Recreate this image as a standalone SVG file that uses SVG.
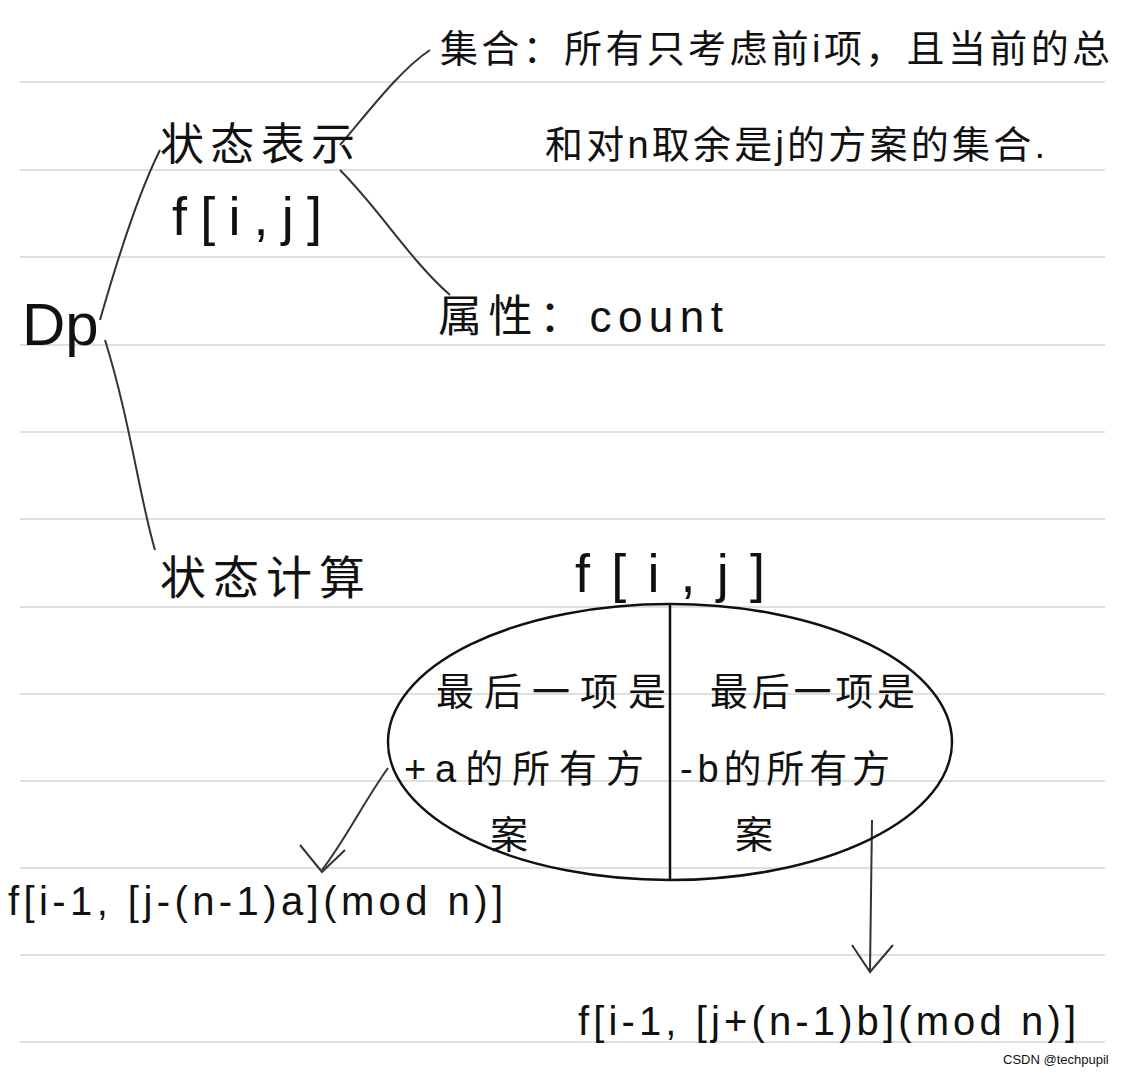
<svg xmlns="http://www.w3.org/2000/svg" width="1132" height="1080" viewBox="0 0 1132 1080">
<style>
.rule{stroke:#d4d4d4;stroke-width:1.5}
.t{font-family:"Liberation Sans","Noto Sans CJK SC",sans-serif;fill:#111}
.c{fill:none;stroke:#333;stroke-width:2}
</style>
<rect width="1132" height="1080" fill="#fff"/>
<g id="paper">
<line class="rule" x1="20" y1="82" x2="1105" y2="82"/><line class="rule" x1="20" y1="170" x2="1105" y2="170"/>
<line class="rule" x1="20" y1="257" x2="1105" y2="257"/><line class="rule" x1="20" y1="345" x2="1105" y2="345"/>
<line class="rule" x1="20" y1="432" x2="1105" y2="432"/><line class="rule" x1="20" y1="519" x2="1105" y2="519"/>
<line class="rule" x1="20" y1="607" x2="1105" y2="607"/><line class="rule" x1="20" y1="694" x2="1105" y2="694"/>
<line class="rule" x1="20" y1="781" x2="1105" y2="781"/><line class="rule" x1="20" y1="868" x2="1105" y2="868"/>
<line class="rule" x1="20" y1="955" x2="1105" y2="955"/><line class="rule" x1="20" y1="1042" x2="1105" y2="1042"/>
</g>
<g id="connectors">
<path class="c" d="M100,320 C120,250 140,190 160,150"/>
<path class="c" d="M105,340 C130,420 140,500 155,550"/>
<path class="c" d="M340,145 C370,110 400,70 430,50"/>
<path class="c" d="M340,170 C380,210 410,260 450,295"/>
<path class="c" d="M388,768 C365,800 345,840 322,870"/>
<path class="c" d="M300,845 L322,872 L345,850"/>
<path class="c" d="M872,820 L870,970"/>
<path class="c" d="M852,945 L870,972 L893,945"/>
</g>
<g id="dp"><text class="t" x="22" y="345" font-size="60">Dp</text></g>
<g id="state-repr"><text class="t" x="160" y="160" font-size="44" textLength="195">状态表示</text>
<text class="t" x="172" y="235" font-size="54" textLength="150">f[i,j]</text></g>
<g id="set"><text class="t" x="440" y="62" font-size="38" textLength="670">集合：所有只考虑前i项，且当前的总</text>
<text class="t" x="545" y="158" font-size="38" textLength="500">和对n取余是j的方案的集合.</text></g>
<g id="attr"><text class="t" x="438" y="332" font-size="44" textLength="285">属性：count</text></g>
<g id="state-calc"><text class="t" x="160" y="594" font-size="46" textLength="205">状态计算</text></g>
<g id="ellipse">
<text class="t" x="575" y="592" font-size="54" textLength="190">f[i,j]</text>
<ellipse cx="670" cy="742" rx="282" ry="138" fill="none" stroke="#111" stroke-width="2.5"/>
<line x1="670" y1="604" x2="670" y2="880" stroke="#111" stroke-width="2.5"/>
<text class="t" x="436" y="705" font-size="38" textLength="230">最后一项是</text>
<text class="t" x="404" y="782" font-size="38" textLength="240">+a的所有方</text>
<text class="t" x="490" y="848" font-size="38">案</text>
<text class="t" x="710" y="705" font-size="38" textLength="205">最后一项是</text>
<text class="t" x="680" y="782" font-size="38" textLength="210">-b的所有方</text>
<text class="t" x="735" y="848" font-size="38">案</text>
</g>
<g id="left-formula"><text class="t" x="8" y="915" font-size="40" textLength="495">f[i-1, [j-(n-1)a](mod n)]</text></g>
<g id="right-formula"><text class="t" x="578" y="1035" font-size="40" textLength="498">f[i-1, [j+(n-1)b](mod n)]</text></g>
<text class="t" x="1003" y="1064" font-size="13" fill="#888">CSDN @techpupil</text>
</svg>
